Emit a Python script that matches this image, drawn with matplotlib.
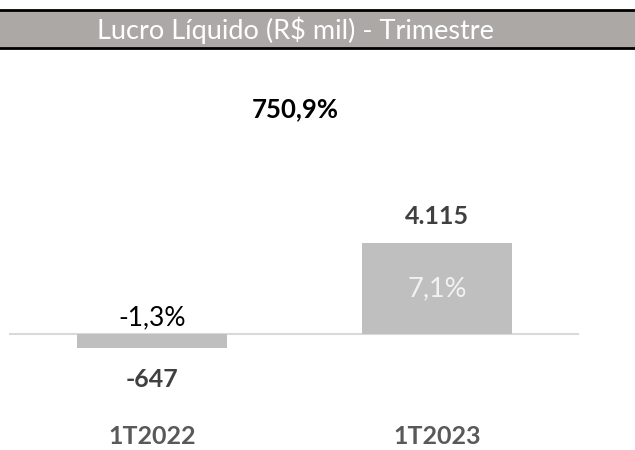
import matplotlib
matplotlib.use('Agg')
import matplotlib.pyplot as plt
from matplotlib.patches import Rectangle
import matplotlib.transforms as mtransforms

# data
periodos = ['1T2022', '1T2023']
lucro = [-647, 4115]
lucro_txt = ['-647', '4.115']
margem_txt = ['-1,3%', '7,1%']
crescimento = '750,9%'
titulo = 'Lucro Líquido (R$ mil) - Trimestre'

plt.rcParams['font.family'] = ['Lato', 'DejaVu Sans']

fig = plt.figure(figsize=(6.35, 4.5), dpi=100)
ax = fig.add_axes([0, 0, 1, 1])
ax.set_xlim(-0.533, 1.695)
ax.set_ylim(-5246, 15104)
ax.axis('off')

x = range(len(periodos))
ax.bar(x, lucro, width=0.526, color='#BFBFBF', zorder=2)
ax.axhline(0, xmin=10 / 635, xmax=578 / 635, color='#D9D9D9', linewidth=1.5, zorder=1)

# negative bar: margin above baseline, value below bar
ax.annotate(margem_txt[0], (0, 0), xytext=(0, 11.5), textcoords='offset points',
            ha='center', va='center', fontsize=19, color='#000000')
ax.annotate(lucro_txt[0], (0, lucro[0]), xytext=(0, -22.3), textcoords='offset points',
            ha='center', va='center', fontsize=18, fontweight='bold', color='#404040')
# positive bar: value above, margin inside
ax.annotate(lucro_txt[1], (1, lucro[1]), xytext=(0, 19.4), textcoords='offset points',
            ha='center', va='center', fontsize=18, fontweight='bold', color='#404040')
ax.text(1, lucro[1] / 2, margem_txt[1], ha='center', va='center', fontsize=19.5,
        color='#F2F2F2')

trans = mtransforms.blended_transform_factory(ax.transData, ax.transAxes)
for i, p in enumerate(periodos):
    ax.text(i, 1 - 437 / 450, p, transform=trans, ha='center', va='center',
            fontsize=18, fontweight='bold', color='#595959')

fig.text(295 / 635, 1 - 109 / 450, crescimento, ha='center', va='center',
         fontsize=18.5, fontweight='bold', color='#000000')

# title band
fig.patches.append(Rectangle((0, 1 - 48 / 450), 1, 38 / 450, transform=fig.transFigure,
                             facecolor='#ABA8A6', edgecolor='none', zorder=0))
for yy in (10, 48):
    fig.add_artist(plt.Line2D([0, 1], [1 - yy / 450] * 2, transform=fig.transFigure,
                              color='black', linewidth=2))
fig.text(295 / 635, 1 - 30 / 450, titulo, ha='center', va='center', fontsize=19.5,
         color='#FFFFFF')

fig.savefig('out.png', dpi=100)
